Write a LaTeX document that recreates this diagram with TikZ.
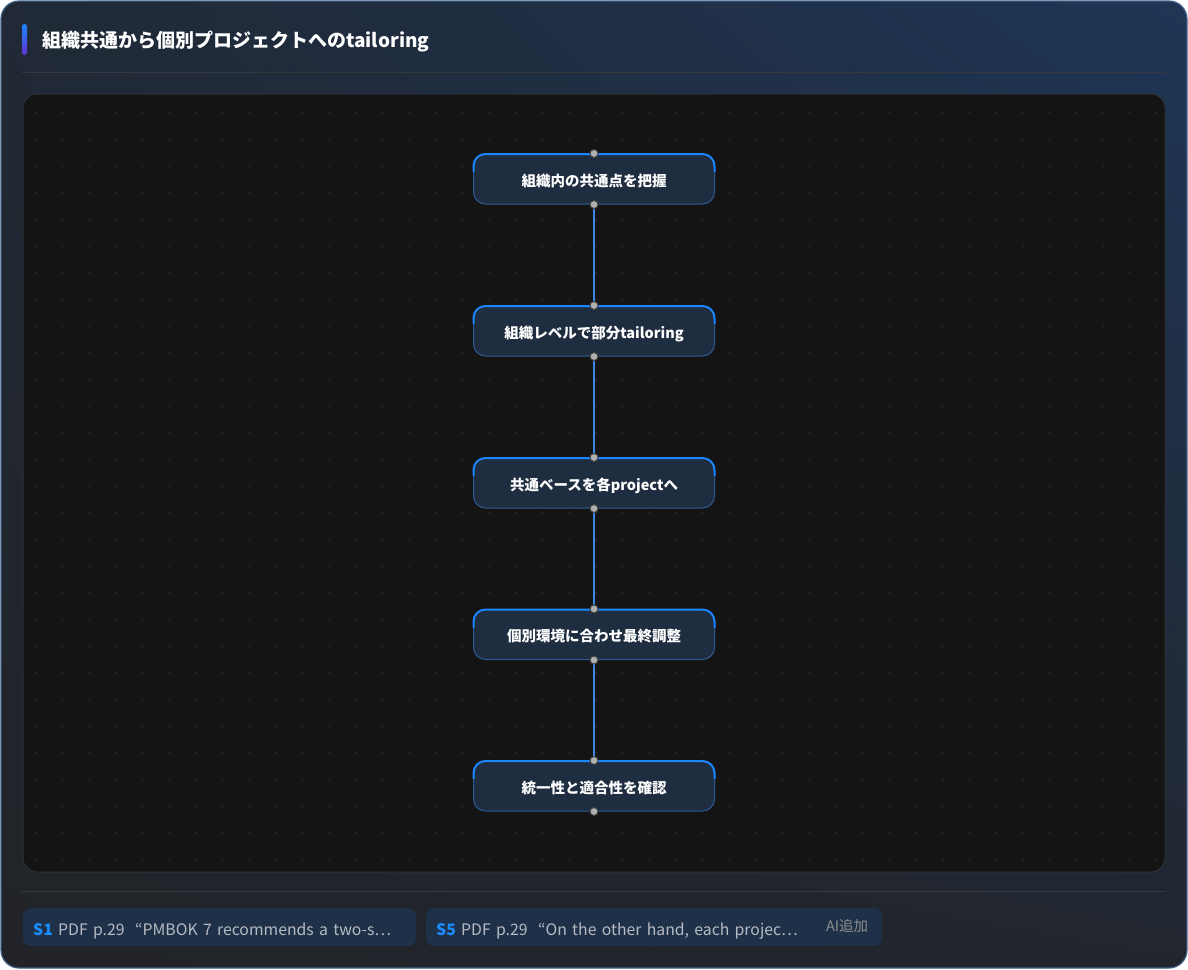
\documentclass[tikz,border=0pt]{standalone}
\usepackage{fontspec}
\setmainfont{Noto Sans CJK JP}
\usepackage{tikz}
\usetikzlibrary{positioning,shadings}

\definecolor{bgdark}{HTML}{212327}
\definecolor{bgblue}{HTML}{1F3656}
\definecolor{framec}{HTML}{3F6189}
\definecolor{sepc}{HTML}{35383D}
\definecolor{canvasc}{HTML}{141414}
\definecolor{canvasb}{HTML}{2E3136}
\definecolor{gridc}{HTML}{1C2D42}
\definecolor{stagec}{HTML}{1F2D40}
\definecolor{stageb}{HTML}{2C5B94}
\definecolor{topc}{HTML}{1B86FF}
\definecolor{flowc}{HTML}{3A86E0}
\definecolor{chipc}{HTML}{1F3049}
\definecolor{srcblue}{HTML}{1A8CFF}
\definecolor{chiptext}{HTML}{B6BAC2}
\definecolor{handlec}{HTML}{B0B0B0}

\begin{document}
\begin{tikzpicture}[x=1pt, y=-1pt,
  stage/.style={draw=stageb, line width=1pt, fill=stagec, rounded corners=12pt,
    minimum width=241pt, minimum height=50pt, text=white, text height=14pt, text depth=0pt,
    font=\bfseries\fontsize{14.5}{15}\selectfont},
  flowline/.style={draw=flowc, line width=2.2pt},
  handle/.style={fill=handlec, draw=black!75, line width=1pt},
  chip/.style={fill=chipc, rounded corners=8pt, anchor=north west, minimum height=38pt,
    inner xsep=10pt, align=left, text=chiptext, text height=17pt, text depth=0pt,
    font=\fontsize{15.8}{16}\selectfont},
  dot/.style={fill=gridc}]
  \useasboundingbox (0,0) rectangle (1188,969);

  % outer frame
  \begin{scope}
    \clip[rounded corners=18pt] (1,1) rectangle (1187,968);
    \shade[upper left=bgdark!70!bgblue, upper right=bgblue, lower left=bgdark, lower right=bgdark!85!bgblue]
      (0,0) rectangle (1188,969);
    \foreach \i in {0,...,44}
      \foreach \j in {0,...,36}
        \fill[dot, opacity=.7] (26.67*\i, 15+26.67*\j) circle (1pt);
  \end{scope}
  \draw[framec, line width=1.2pt, rounded corners=18pt] (1,1) rectangle (1187,968);

  % title
  \shade[top color=topc, bottom color=blue!55!violet!80!white, rounded corners=2.5pt] (22,24) rectangle (27,55);
  \node[anchor=west, inner sep=0pt, text=white, font=\bfseries\fontsize{19}{20}\selectfont]
    (title) at (42,42) {組織共通から個別プロジェクトへのtailoring};
  \draw[sepc, line width=1pt] (22,72.5) -- (1166,72.5);

  % canvas
  \draw[fill=canvasc, draw=canvasb, line width=1pt, rounded corners=14pt] (23,94) rectangle (1165,872);
  \begin{scope}
    \clip[rounded corners=14pt] (23,94) rectangle (1165,872);
    \foreach \i in {0,...,42}
      \foreach \j in {0,...,28}
        \fill[dot] (36+26.67*\i, 112.7+26.67*\j) circle (1pt);
  \end{scope}

  % steps
  \node[stage] (s1) at (594,179) {組織内の共通点を把握};
  \node[stage] (s2) at (594,331) {組織レベルで部分tailoring};
  \node[stage] (s3) at (594,483) {共通ベースを各projectへ};
  \node[stage] (s4) at (594,634.5) {個別環境に合わせ最終調整};
  \node[stage] (s5) at (594,786) {統一性と適合性を確認};

  \draw[flowline] (s1.south) -- (s2.north);
  \draw[flowline] (s2.south) -- (s3.north);
  \draw[flowline] (s3.south) -- (s4.north);
  \draw[flowline] (s4.south) -- (s5.north);

  \foreach \n in {s1,s2,s3,s4,s5} {
    \begin{scope}
      \clip ([shift={(-3pt,3pt)}]\n.north west) rectangle ([shift={(3pt,-18pt)}]\n.north east);
      \draw[topc, line width=2pt, rounded corners=12pt]
        ([shift={(0.5pt,-0.5pt)}]\n.north west) rectangle ([shift={(-0.5pt,0.5pt)}]\n.south east);
    \end{scope}
    \filldraw[handle] (\n.north) circle (4pt);
    \filldraw[handle] (\n.south) circle (4pt);
  }

  % sources
  \draw[sepc, line width=1pt] (22,891.5) -- (1166,891.5);
  \node[chip, text width=373pt] (c1) at (23,908)
    {\textcolor{srcblue}{\bfseries S1}\ PDF p.29\ \ “PMBOK 7 recommends a two-s…};
  \node[chip, text width=436pt] (c2) at (426,908)
    {\textcolor{srcblue}{\bfseries S5}\ PDF p.29\ \ “On the other hand, each projec…};
  \node[anchor=east, text=black!45!white, font=\fontsize{14.5}{15}\selectfont, inner sep=0pt]
    (ai) at ([xshift=-14pt, yshift=1pt]c2.east) {AI追加};
\end{tikzpicture}
\end{document}
